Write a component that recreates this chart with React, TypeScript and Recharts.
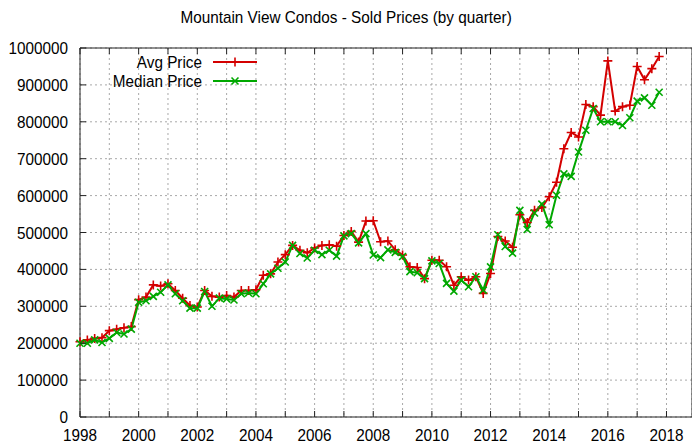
import React from "react"
import { LineChart, Line, XAxis, YAxis, CartesianGrid, Legend } from "recharts"

// quarterly sales, values in thousands of dollars
const years = [1998, 1999, 2000, 2001, 2002, 2003, 2004, 2005, 2006, 2007, 2008, 2009, 2010, 2011, 2012, 2013, 2014, 2015, 2016, 2017]
const quarterOffsets = [0, 0.25, 0.5, 0.75]

const avgPrice = [
  204, 209, 213, 215,
  234, 238, 242, 245,
  318, 325, 358, 355,
  361, 343, 322, 302,
  298, 343, 327, 325,
  329, 325, 343, 343,
  345, 384, 388, 420,
  440, 465, 452, 445,
  458, 465, 467, 463,
  492, 503, 474, 531,
  532, 475, 477, 453,
  439, 407, 405, 375,
  425, 425, 407, 357,
  380, 371, 380, 335,
  389, 489, 477, 460,
  548, 527, 560, 568,
  597, 636, 727, 771,
  759, 847, 841, 818,
  965, 829, 841, 845,
  950, 914, 944, 977,
]

const medianPrice = [
  200, 200, 209, 202,
  213, 229, 225, 238,
  311, 315, 327, 338,
  358, 334, 315, 295,
  295, 340, 300, 322,
  320, 317, 334, 336,
  334, 361, 388, 403,
  420, 465, 443, 431,
  452, 440, 452, 436,
  491, 497, 472, 497,
  439, 432, 453, 446,
  435, 394, 391, 375,
  423, 416, 362, 341,
  371, 353, 380, 344,
  407, 494, 462, 444,
  560, 508, 553, 577,
  521, 601, 659, 652,
  718, 777, 836, 800,
  800, 800, 790, 811,
  856, 865, 845, 880,
]

const xTicks = [1998, 1999, 2000, 2001, 2002, 2003, 2004, 2005, 2006, 2007, 2008, 2009, 2010, 2011, 2012, 2013, 2014, 2015, 2016, 2017, 2018]
const yTicks = [0, 100000, 200000, 300000, 400000, 500000, 600000, 700000, 800000, 900000, 1000000]

const AVG_COLOR = "#d40000"
const MEDIAN_COLOR = "#00a800"
const BORDER = "#222"
const FONT = '"Liberation Sans", Arial, sans-serif'
// the original uses a narrow face, squeeze the regular one a bit
const SQUEEZE = 0.9

const data = years.flatMap((year, i) =>
  quarterOffsets.map((q, j) => ({
    t: year + q,
    avg: avgPrice[i * 4 + j] * 1000,
    median: medianPrice[i * 4 + j] * 1000,
  }))
)

function Label({ x, y, anchor, children }: { x: number; y: number; anchor: "start" | "middle" | "end"; children: React.ReactNode }) {
  return (
    <text
      transform={`translate(${x},${y}) scale(${SQUEEZE},1)`}
      textAnchor={anchor}
      fontSize={17}
      fill="#000"
      fontFamily={FONT}
    >
      {children}
    </text>
  )
}

function Plus({ cx, cy, color }: { cx: number; cy: number; color: string }) {
  return <path d={`M${cx - 4.5},${cy}h9M${cx},${cy - 4.5}v9`} stroke={color} strokeWidth={1.6} fill="none" />
}

function Cross({ cx, cy, color }: { cx: number; cy: number; color: string }) {
  return <path d={`M${cx - 3.5},${cy - 3.5}l7,7M${cx - 3.5},${cy + 3.5}l7,-7`} stroke={color} strokeWidth={1.6} fill="none" />
}

function BottomTick(props: any) {
  const { x, y, payload } = props
  return (
    <g>
      <line x1={x} x2={x} y1={y} y2={y - 6} stroke={BORDER} />
      {payload.value % 2 === 0 && (
        <Label x={x} y={y + 24} anchor="middle">
          {payload.value}
        </Label>
      )}
    </g>
  )
}

function TopTick(props: any) {
  const { x, y } = props
  return <line x1={x} x2={x} y1={y} y2={y + 6} stroke={BORDER} />
}

function LeftTick(props: any) {
  const { x, y, payload } = props
  return (
    <g>
      <line x1={x} x2={x + 6} y1={y} y2={y} stroke={BORDER} />
      <Label x={x - 12} y={y + 6} anchor="end">
        {payload.value}
      </Label>
    </g>
  )
}

function RightTick(props: any) {
  const { x, y } = props
  return <line x1={x} x2={x - 6} y1={y} y2={y} stroke={BORDER} />
}

function LegendBox() {
  const rows = [
    { name: "Avg Price", color: AVG_COLOR, Marker: Plus },
    { name: "Median Price", color: MEDIAN_COLOR, Marker: Cross },
  ]
  return (
    <svg width={270} height={44}>
      {rows.map((r, i) => {
        const cy = 12 + i * 19
        return (
          <g key={r.name}>
            <Label x={202} y={cy + 6} anchor="end">
              {r.name}
            </Label>
            <line x1={213} x2={257} y1={cy} y2={cy} stroke={r.color} strokeWidth={2} />
            <r.Marker cx={235} cy={cy} color={r.color} />
          </g>
        )
      })}
    </svg>
  )
}

export default function App() {
  return (
    <div style={{ position: "absolute", left: 0, top: 0, width: 692, height: 444, overflow: "hidden", background: "#fff" }}>
      <div style={{ position: "absolute", top: 8, left: 0, width: 692, textAlign: "center" }}>
        <span
          style={{
            display: "inline-block",
            transform: `scaleX(${SQUEEZE})`,
            fontFamily: FONT,
            fontSize: 17,
            color: "#000",
          }}
        >
          Mountain View Condos - Sold Prices (by quarter)
        </span>
      </div>
      <LineChart width={693} height={444} data={data} margin={{ top: 28, right: 0, bottom: 0, left: 0 }}>
        <CartesianGrid stroke="#a8a8a8" strokeDasharray="2 3" />
        <XAxis
          dataKey="t"
          type="number"
          domain={[1998, 2018.87]}
          ticks={xTicks}
          interval={0}
          height={27}
          tickSize={0}
          tickMargin={0}
          stroke={BORDER}
          tick={<BottomTick />}
        />
        <XAxis
          xAxisId="top"
          orientation="top"
          dataKey="t"
          type="number"
          domain={[1998, 2018.87]}
          ticks={xTicks}
          interval={0}
          height={20}
          tickSize={0}
          tickMargin={0}
          stroke={BORDER}
          tick={<TopTick />}
        />
        <YAxis
          domain={[0, 1000000]}
          ticks={yTicks}
          interval={0}
          width={80}
          tickSize={0}
          tickMargin={0}
          stroke={BORDER}
          tick={<LeftTick />}
        />
        <YAxis
          yAxisId="right"
          orientation="right"
          domain={[0, 1000000]}
          ticks={yTicks}
          interval={0}
          width={1}
          tickSize={0}
          tickMargin={0}
          stroke={BORDER}
          tick={<RightTick />}
        />
        <Legend
          layout="vertical"
          align="center"
          verticalAlign="middle"
          wrapperStyle={{ left: 0, top: 50, width: 270, height: 44 }}
          content={() => <LegendBox />}
        />
        <Line
          dataKey="avg"
          name="Avg Price"
          stroke={AVG_COLOR}
          strokeWidth={2}
          isAnimationActive={false}
          dot={(p: any) => <Plus key={`a${p.index}`} cx={p.cx} cy={p.cy} color={AVG_COLOR} />}
        />
        <Line
          dataKey="median"
          name="Median Price"
          stroke={MEDIAN_COLOR}
          strokeWidth={2}
          isAnimationActive={false}
          dot={(p: any) => <Cross key={`m${p.index}`} cx={p.cx} cy={p.cy} color={MEDIAN_COLOR} />}
        />
      </LineChart>
    </div>
  )
}
